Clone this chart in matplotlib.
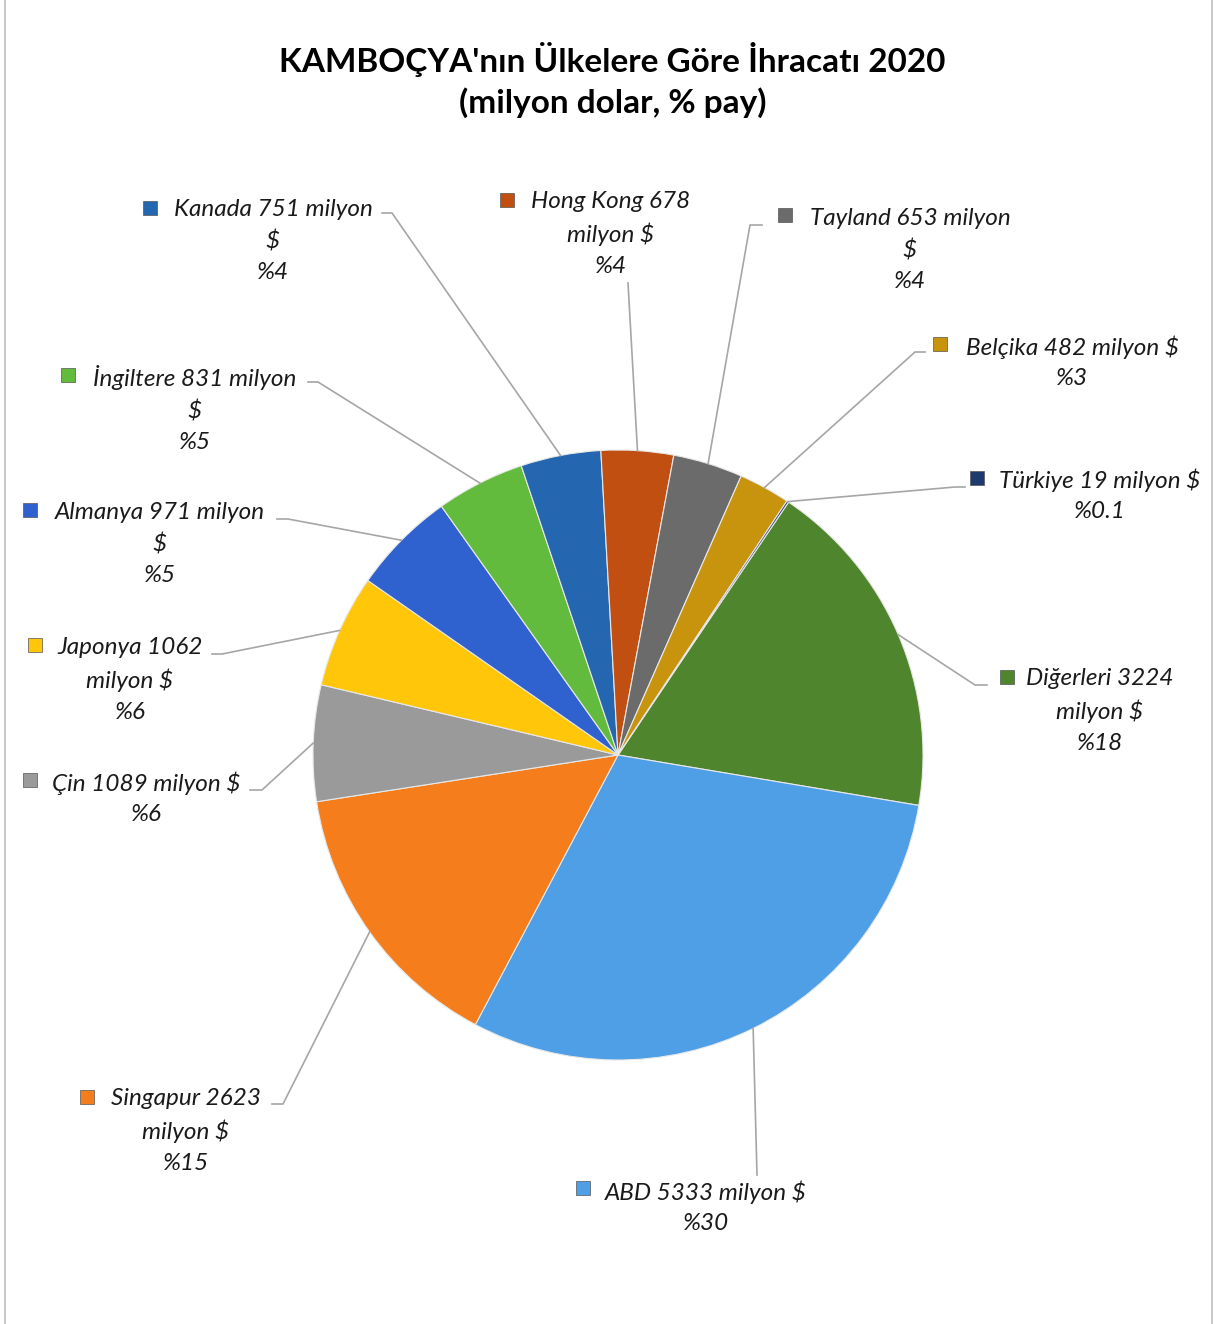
import numpy as np
import matplotlib.pyplot as plt
from matplotlib.lines import Line2D

W, H = 1215, 1324

countries = ['Diğerleri', 'ABD', 'Singapur', 'Çin', 'Japonya', 'Almanya',
             'İngiltere', 'Kanada', 'Hong Kong', 'Tayland', 'Belçika', 'Türkiye']
values = [3224, 5333, 2623, 1089, 1062, 971, 831, 751, 678, 653, 482, 19]
shares = ['%18', '%30', '%15', '%6', '%6', '%5', '%5', '%4', '%4', '%4', '%3', '%0.1']
colors = ['#4f852c', '#4e9fe6', '#f57d1c', '#9a9a9a', '#ffc60a', '#2f62cf',
          '#62bb3c', '#2566b0', '#c24f12', '#6b6b6b', '#c8940e', '#1d3a6e']

# label layout (pixel coords, y from top): text lines, text center, marker, leader end
labels = {
    'Diğerleri': (['Diğerleri 3224', 'milyon $', '%18'], (1100, 711), (1007, 677), (975, 685, 987)),
    'ABD':       (['ABD 5333 milyon $', '%30'], (706, 1207), (583, 1188), (757, 1175, 757)),
    'Singapur':  (['Singapur 2623', 'milyon $', '%15'], (186, 1131), (87, 1097), (283, 1104, 272)),
    'Çin':       (['Çin 1089 milyon $', '%6'], (146, 798), (30, 780), (262, 790, 250)),
    'Japonya':   (['Japonya 1062', 'milyon $', '%6'], (130, 680), (35, 645), (222, 654, 212)),
    'Almanya':   (['Almanya 971 milyon', '$', '%5'], (160, 544), (30, 510), (288, 519, 277)),
    'İngiltere': (['İngiltere 831 milyon', '$', '%5'], (195, 409), (68, 375), (318, 382, 308)),
    'Kanada':    (['Kanada 751 milyon', '$', '%4'], (273, 241), (150, 208), (392, 213, 382)),
    'Hong Kong': (['Hong Kong 678', 'milyon $', '%4'], (611, 234), (507, 200), (628, 283, 628)),
    'Tayland':   (['Tayland 653 milyon', '$', '%4'], (910, 250), (785, 215), (750, 225, 762)),
    'Belçika':   (['Belçika 482 milyon $', '%3'], (1072, 362), (940, 344), (915, 352, 925)),
    'Türkiye':   (['Türkiye 19 milyon $', '%0.1'], (1100, 495), (977, 478), (955, 487, 965)),
}

plt.rcParams['font.family'] = ['Lato', 'DejaVu Sans']

fig = plt.figure(figsize=(W / 100, H / 100), dpi=100)
ax = fig.add_axes([0, 0, 1, 1])

cx, cy, r = 618, H - 755, 305
start = 56
wedges, _ = ax.pie(values, colors=colors, startangle=start, counterclock=False,
                   center=(cx, cy), radius=r, frame=True,
                   wedgeprops=dict(edgecolor='#e8e8e8', linewidth=0.8))
ax.set_xlim(0, W)
ax.set_ylim(0, H)
ax.set_aspect('equal')
ax.axis('off')

for w, name in zip(wedges, countries):
    lines, (tx, ty), (mx, my), (ex, ey, ex2) = labels[name]
    mid = np.deg2rad((w.theta1 + w.theta2) / 2)
    sx, sy = cx + r * np.cos(mid), cy + r * np.sin(mid)
    ax.plot([sx, ex, ex2], [sy, H - ey, H - ey], color='#a6a6a6', lw=1.2, zorder=1)
    ax.text(tx, H - ty, '\n'.join(lines), ha='center', va='center', style='italic',
            fontsize=17.5, linespacing=1.55, color='#1a1a1a')
    ax.plot(mx, H - my, marker='s', ms=10, color=w.get_facecolor(),
            mec='#555555', mew=0.5)

ax.text(W / 2 + 5, H - 80, "KAMBOÇYA'nın Ülkelere Göre İhracatı 2020\n(milyon dolar, % pay)",
        ha='center', va='center', fontsize=24, fontweight='bold', linespacing=1.4)

fig.add_artist(Line2D([5 / W, 5 / W], [0, 1], color='#bfbfbf', lw=1.2))
fig.add_artist(Line2D([1212 / W, 1212 / W], [0, 1], color='#bfbfbf', lw=1.2))

fig.savefig('out.png', dpi=100)
